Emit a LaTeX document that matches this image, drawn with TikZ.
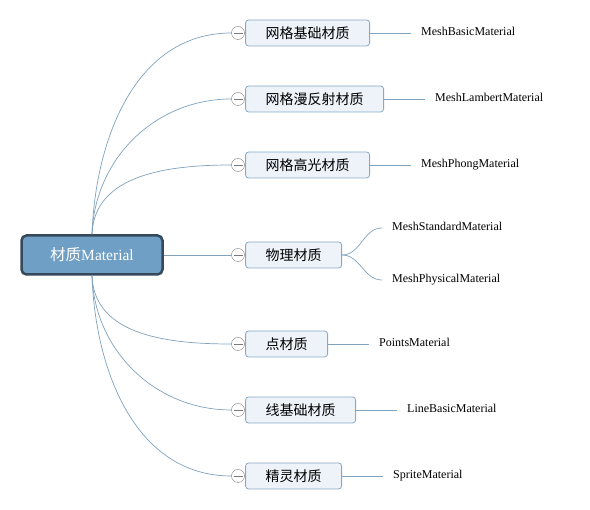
\documentclass[tikz,border=0pt]{standalone}
\usepackage{fontspec}
\setmainfont{Liberation Serif}
\newfontfamily\cjk{Noto Sans CJK SC}
\usetikzlibrary{positioning}

\definecolor{rootFill}{HTML}{6F9FC4}
\definecolor{rootEdge}{HTML}{36495A}
\definecolor{branchFill}{HTML}{EEF3F9}
\definecolor{branchEdge}{HTML}{87A9C5}
\definecolor{linkBlue}{HTML}{7FA2BE}
\definecolor{markGray}{HTML}{7A7A7A}

\begin{document}
\begin{tikzpicture}[x=1pt, y=1pt,
    rootBox/.style={draw=rootEdge, line width=2.5pt, fill=rootFill, rounded corners=5pt,
        minimum width=141pt, minimum height=39pt, text=white, font=\fontsize{15.5}{18}\selectfont},
    branchBox/.style={draw=branchEdge, fill=branchFill, rounded corners=3pt, line width=0.8pt,
        minimum height=26pt, inner xsep=20pt, font=\cjk\fontsize{14}{16}\selectfont},
    leafText/.style={inner xsep=10pt, text height=8pt, text depth=3pt, font=\fontsize{12}{14}\selectfont},
    collapseMark/.style={circle, draw=markGray, fill=white, minimum size=13pt, inner sep=0pt,
        path picture={\draw[markGray] ([xshift=2pt]path picture bounding box.west) -- ([xshift=-2pt]path picture bounding box.east);}},
    linkLine/.style={draw=linkBlue, line width=0.7pt}]

    \useasboundingbox (0,0) rectangle (590,510);

    \node[rootBox] (root) at (92,255) {{\cjk 材质}Material};

    % branches with one leaf
    \foreach \i/\y/\branchText/\leafName in {1/477/网格基础材质/MeshBasicMaterial,
            2/411/网格漫反射材质/MeshLambertMaterial, 3/345/网格高光材质/MeshPhongMaterial,
            5/166/点材质/PointsMaterial, 6/100/线基础材质/LineBasicMaterial,
            7/34/精灵材质/SpriteMaterial} {
        \node[collapseMark] (c\i) at (238,\y) {};
        \node[branchBox, right=0.5pt of c\i] (b\i) {\branchText};
        \node[leafText, right=41pt of b\i] (l\i) {\leafName};
        \draw[linkLine] (b\i) -- (l\i);
    }

    % branch with two leaves
    \node[collapseMark] (c4) at (238,255) {};
    \node[branchBox, right=0.5pt of c4] (b4) {物理材质};
    \node[leafText, right=40pt of b4, yshift=27pt] (l4a) {MeshStandardMaterial};
    \node[leafText, right=40pt of b4, yshift=-25pt] (l4b) {MeshPhysicalMaterial};
    \draw[linkLine] (b4.east) to[out=0, in=180] (l4a.west);
    \draw[linkLine] (b4.east) to[out=0, in=180] (l4b.west);

    % links from the root
    \foreach \i in {1,2,3} {
        \draw[linkLine] (root.north) to[out=88, in=180] (c\i.west);
    }
    \draw[linkLine] (root) -- (c4);
    \foreach \i in {5,6,7} {
        \draw[linkLine] (root.south) to[out=-88, in=180] (c\i.west);
    }

\end{tikzpicture}
\end{document}
